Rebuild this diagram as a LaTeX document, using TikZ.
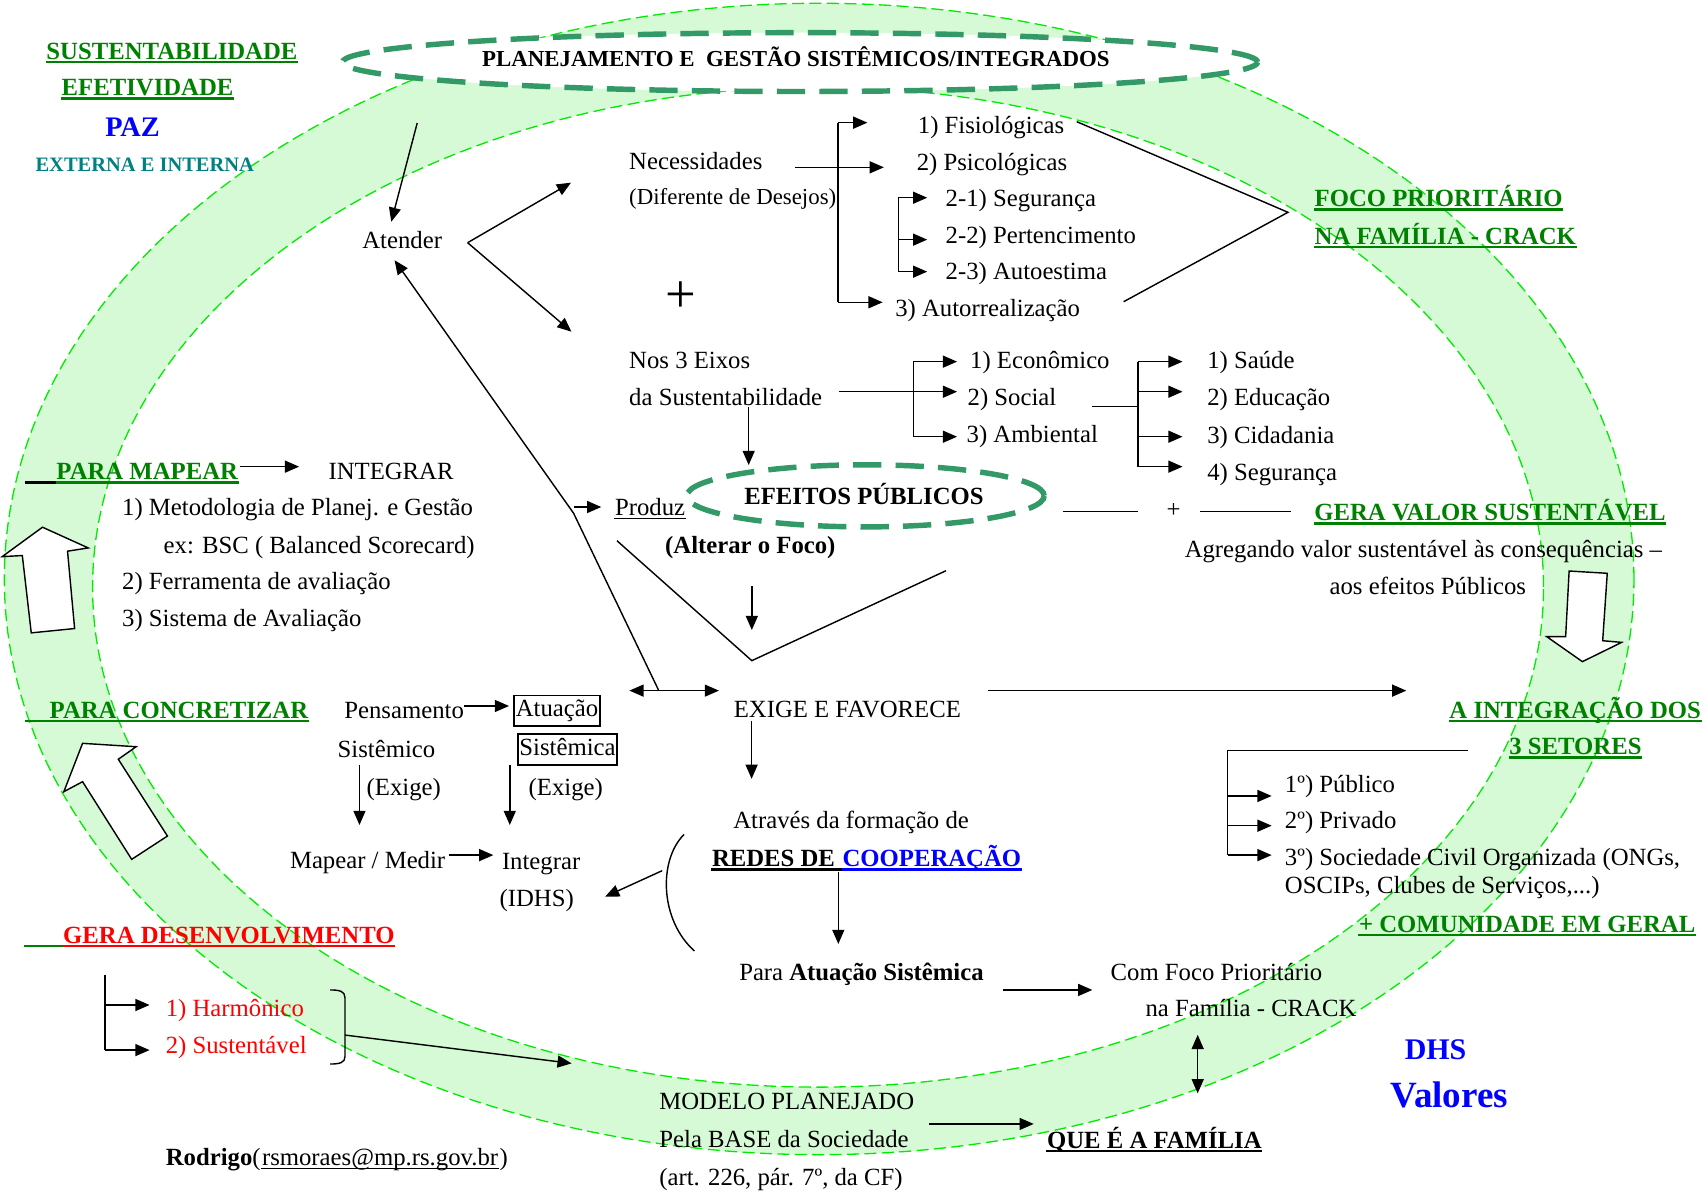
\documentclass[tikz,border=0pt]{standalone}
\usepackage{fontspec}
\setmainfont{Liberation Serif}
\usetikzlibrary{arrows.meta,positioning}
\newcommand{\ulnode}[3]{\draw[#1, line width=#2] ([yshift=-2.6pt]#3.base west) -- ([yshift=-2.6pt]#3.base east);}
\definecolor{hgreen}{RGB}{0,128,0}
\definecolor{tealc}{RGB}{0,128,128}
\definecolor{ovalc}{RGB}{51,153,102}
\definecolor{bandc}{RGB}{214,250,214}
\definecolor{bandl}{RGB}{0,235,0}
\tikzset{
	txt/.style={inner sep=0pt, anchor=base west, font=\fontsize{22.7}{27}\selectfont},
	bd/.style={txt, font=\fontsize{22.7}{27}\selectfont\bfseries},
	hd/.style={bd, text=hgreen},
	rtxt/.style={txt, text=red},
	boxed/.style={txt, draw, line width=1.5pt, inner xsep=1.5pt, inner ysep=0.5pt},
	arr/.style={-{Triangle[length=13pt,width=11pt]}},
	darr/.style={{Triangle[length=13pt,width=11pt]}-{Triangle[length=13pt,width=11pt]}},
	oval/.style={draw=ovalc, line width=5pt, dash pattern=on 26pt off 13pt},
	band/.style={draw=bandl, line width=1.2pt, dash pattern=on 11pt off 5pt},
	blk/.style={draw, fill=white, line width=1.3pt}
}
\begin{document}
\begin{tikzpicture}[x=1pt, y=-1pt, line width=1.3pt]
	\useasboundingbox (0,0) rectangle (1568,1101);
	\fill[bandc, even odd rule] (752,531.5) ellipse [x radius=748pt, y radius=528.5pt] (751,539) ellipse [x radius=666pt, y radius=459pt];
	\draw[band] (752,531.5) ellipse [x radius=748pt, y radius=528.5pt];
	\draw[band] (751,539) ellipse [x radius=666pt, y radius=459pt];
	\draw[blk] (39,484) -- (81,503) -- (62,506) -- (68.5,577) -- (28.7,581) -- (20.5,510) -- (2,511) -- cycle;
	\draw[blk] (75.8,682.4) -- (125,685.5) -- (108.6,697) -- (153.7,767.5) -- (120.9,788.9) -- (75.8,717.6) -- (58.6,726.8) -- cycle;
	\draw[blk] (1440.5,524.2) -- (1475.5,526.3) -- (1471.3,588.2) -- (1488.7,589.7) -- (1452.7,607.4) -- (1420,584.5) -- (1437.3,584.5) -- cycle;
	\draw[oval, fill=white] (734.5,57) ellipse [x radius=420pt, y radius=27pt];
	\draw[oval] (794.6,455.2) ellipse [x radius=164pt, y radius=28.5pt];

	\node[hd] (sust)at(42,54.2) {SUSTENTABILIDADE};
	\node[hd] (efet)at(56,87.8) {EFETIVIDADE};
	\node[txt, font=\fontsize{26}{30}\selectfont\bfseries, text=blue] (paz)at(96,125.5) {PAZ};
	\node[txt, font=\fontsize{18.8}{22}\selectfont\bfseries, text=tealc] (ext)at(32,157.6) {EXTERNA E INTERNA};
	\node[txt, font=\fontsize{21}{25}\selectfont\bfseries] (plan)at(442,60.6) {PLANEJAMENTO E \ GESTÃO SISTÊMICOS/INTEGRADOS};
	\node[txt] (atender)at(332,228) {Atender};
	\node[txt] (nec)at(577,156) {Necessidades};
	\node[txt, font=\fontsize{21}{25}\selectfont] (difer)at(577,188) {(Diferente de Desejos)};
	\node[txt] (fis)at(842,122.5) {1) Fisiológicas};
	\node[txt] (psi)at(841,156.5) {2) Psicológicas};
	\node[txt] (seg1)at(867.5,190) {2-1) Segurança};
	\node[txt] (pert)at(867.5,223.5) {2-2) Pertencimento};
	\node[txt] (auto)at(867.5,257) {2-3) Autoestima};
	\node[txt] (real)at(821.3,291) {3) Autorrealização};
	\node[txt, anchor=center, font=\fontsize{50}{50}\selectfont] (plus1)at(625,272.4) {+};
	\node[hd] (foco)at(1206.3,189.6) {FOCO PRIORITÁRIO};
	\node[hd] (fam)at(1206.3,224.2) {NA FAMÍLIA - CRACK};
	\node[txt] (eixos)at(577,338.5) {Nos 3 Eixos};
	\node[txt] (sustb)at(577,372.2) {da Sustentabilidade};
	\node[txt] (econ)at(890,338.5) {1) Econômico};
	\node[txt] (soc)at(887.7,372.2) {2) Social};
	\node[txt] (amb)at(886.8,405.8) {3) Ambiental};
	\node[txt] (saude)at(1107.7,338.5) {1) Saúde};
	\node[txt] (educ)at(1107.7,372.2) {2) Educação};
	\node[txt] (cid)at(1107.7,407.4) {3) Cidadania};
	\node[txt] (seg2)at(1107.7,441) {4) Segurança};
	\node[hd] (mapear)at(51.2,440.5) {PARA MAPEAR};
	\node[txt] (integrar)at(301,440) {INTEGRAR};
	\node[txt] (met)at(111.5,473.2) {1) Metodologia de Planej. e Gestão};
	\node[txt] (bsc)at(149.6,508.4) {ex: BSC ( Balanced Scorecard)};
	\node[txt] (ferr)at(111.5,541.4) {2) Ferramenta de avaliação};
	\node[txt] (sist)at(111.5,575.1) {3) Sistema de Avaliação};
	\node[txt] (produz)at(564,473.2) {Produz};
	\node[bd] (efeitos)at(682.7,463.5) {EFEITOS PÚBLICOS};
	\node[bd] (alterar)at(610,508.4) {(Alterar o Foco)};
	\node[txt, anchor=center] (plus2)at(1077.4,469) {+};
	\node[hd] (gerav)at(1206,478.2) {GERA VALOR SUSTENTÁVEL};
	\node[txt] (agreg)at(1087,511.5) {Agregando valor sustentável às consequências –};
	\node[txt] (aos)at(1220,545.5) {aos efeitos Públicos};
	\node[hd] (concret)at(45,659.3) {PARA CONCRETIZAR};
	\node[txt] (pens)at(315.5,659.8) {Pensamento};
	\node[boxed] (atua)at(471.3,658) {\strut Atuação};
	\node[txt] (sistco)at(309.4,695) {Sistêmico};
	\node[boxed] (sistca)at(474.6,693.5) {\strut Sistêmica};
	\node[txt] (exige1)at(336,730.2) {(Exige)};
	\node[txt] (exige2)at(484.7,730.2) {(Exige)};
	\node[txt] (medir)at(265.6,797.5) {Mapear / Medir};
	\node[txt] (intg)at(460.2,798.5) {Integrar};
	\node[txt] (idhs)at(458,832.1) {(IDHS)};
	\node[bd, text=red] (gerad)at(57.4,866) {GERA DESENVOLVIMENTO};
	\node[rtxt] (harm)at(151.6,933.5) {1) Harmônico};
	\node[rtxt] (sustv)at(151.6,967.5) {2) Sustentável};
	\node[txt] (rod)at(151.6,1070) {\textbf{Rodrigo}(};
	\node[txt] (mail)at(rod.base east) {rsmoraes@mp.rs.gov.br};
	\node[txt] (rpar)at(mail.base east) {)};
	\node[txt] (exige)at(673,658.5) {EXIGE E FAVORECE};
	\node[txt] (atraves)at(672.6,760.8) {Através da formação de};
	\node[bd] (redes)at(653,795.5) {REDES DE\hspace*{0.25em}};
	\node[bd, text=blue] (coop)at(redes.base east) {COOPERAÇÃO};
	\node[txt] (paraatu)at(678,900) {Para \textbf{Atuação Sistêmica}};
	\node[txt] (comfoco)at(1019,900) {Com Foco Prioritário};
	\node[txt] (nafam)at(1051,933.5) {na Família - CRACK};
	\node[txt] (modelo)at(604.7,1018.5) {MODELO PLANEJADO};
	\node[txt] (pela)at(604.7,1053) {Pela BASE da Sociedade};
	\node[txt] (art)at(604.7,1088.3) {(art. 226, pár. 7º, da CF)};
	\node[bd] (quefam)at(960.6,1054) {QUE É A FAMÍLIA};
	\node[txt, font=\fontsize{27.5}{32}\selectfont\bfseries, text=blue] (dhs)at(1289,972.5) {DHS};
	\node[txt, font=\fontsize{34}{38}\selectfont\bfseries, text=blue] (valores)at(1276,1017) {Valores};
	\node[hd] (integ3)at(1330,659.3) {A INTEGRAÇÃO DOS};
	\node[hd] (setores)at(1385,693) {3 SETORES};
	\node[txt] (pub)at(1179,727.2) {1º) Público};
	\node[txt] (priv)at(1179,760.8) {2º) Privado};
	\node[txt] (soc3)at(1179,794.5) {3º) Sociedade Civil Organizada (ONGs,};
	\node[txt] (oscip)at(1179,820.5) {OSCIPs, Clubes de Serviços,...)};
	\node[hd] (comun)at(1247,855.8) {+ COMUNIDADE EM GERAL};

	\ulnode{hgreen}{2.4pt}{sust}
	\ulnode{hgreen}{2.4pt}{efet}
	\ulnode{hgreen}{2.4pt}{foco}
	\ulnode{hgreen}{2.4pt}{fam}
	\ulnode{hgreen}{2.4pt}{mapear}
	\ulnode{hgreen}{2.4pt}{gerav}
	\ulnode{hgreen}{2.4pt}{concret}
	\ulnode{hgreen}{2.4pt}{integ3}
	\ulnode{hgreen}{2.4pt}{setores}
	\ulnode{hgreen}{2.4pt}{comun}
	\ulnode{red}{2.4pt}{gerad}
	\ulnode{black}{2.4pt}{redes}
	\ulnode{blue}{2.4pt}{coop}
	\ulnode{black}{2.4pt}{quefam}
	\ulnode{black}{1.3pt}{produz}
	\ulnode{black}{1.3pt}{mail}
	\draw[line width=2.4pt] ([xshift=-28.6pt,yshift=-2.6pt]mapear.base west) -- ([yshift=-2.6pt]mapear.base west);
	\draw[hgreen, line width=2.4pt] ([xshift=-22.4pt,yshift=-2.6pt]concret.base west) -- ([yshift=-2.6pt]concret.base west);
	\draw[hgreen, line width=2.4pt] ([xshift=-35pt,yshift=-2.6pt]gerad.base west) -- ([yshift=-2.6pt]gerad.base west);

	\coordinate (pl1)at(383,113);
	\coordinate (av)at(429.3,222.8);
	\coordinate (pz)at(526.6,471.2);
	\coordinate (ex1)at(604.5,633.4);
	\draw[arr] (pl1) -- ([xshift=-10pt,yshift=8pt]atender.north);
	\draw[arr] (av) -- ++(94.9,-55.1);
	\draw[arr] (av) -- ++(95.3,81.7);
	\draw[arr] (ex1) -- (pz) -- ([xshift=-7pt,yshift=-10pt]atender.south);
	\draw[arr, shorten >=12pt] (pz |- produz.west) -- (produz.west);

	\coordinate (nb1)at(769.3,112.6);
	\coordinate (nb2)at(769.3,277.5);
	\coordinate (nn)at(729.5,153.6);
	\draw (nb1) -- (nb2);
	\draw[arr, shorten >=45.7pt] (nb1) -- (nb1 -| fis.west);
	\draw[arr, shorten >=29.6pt] (nn) -- (nn -| psi.west);
	\draw[arr, shorten >=11pt] (nb2) -- (nb2 -| real.west);
	\coordinate (sb1)at(824.6,181.5);
	\coordinate (sb2)at(824.6,220);
	\coordinate (sb3)at(824.6,249.4);
	\draw (sb1) -- (sb3);
	\draw[arr, shorten >=16.3pt] (sb1) -- (sb1 -| seg1.west);
	\draw[arr, shorten >=16.3pt] (sb2) -- (sb2 -| pert.west);
	\draw[arr, shorten >=16.3pt] (sb3) -- (sb3 -| auto.west);
	\draw (988.5,111.7) -- (1182.4,194.9) -- (1031.5,277);

	\coordinate (es)at(770,359.6);
	\coordinate (eb1)at(838.5,332);
	\coordinate (eb2)at(838.5,400.9);
	\draw (eb1) -- (eb2);
	\draw[arr, shorten >=11.4pt] (eb1) -- (eb1 -| econ.west);
	\draw[arr, shorten >=9.1pt] (es) -- (es -| soc.west);
	\draw[arr, shorten >=8.2pt] (eb2) -- (eb2 -| amb.west);
	\coordinate (ed)at(687.3,373.3);
	\draw[arr] (ed) -- ++(0,53.6);
	\coordinate (sc)at(1002.8,373.3);
	\coordinate (hb1)at(1044.7,332);
	\coordinate (hb2)at(1044.7,359.6);
	\coordinate (hb3)at(1044.7,400.9);
	\coordinate (hb4)at(1044.7,428.4);
	\draw (sc) -- (sc -| hb1);
	\draw (hb1) -- (hb4);
	\draw[arr, shorten >=22.1pt] (hb1) -- (hb1 -| saude.west);
	\draw[arr, shorten >=22.1pt] (hb2) -- (hb2 -| educ.west);
	\draw[arr, shorten >=22.1pt] (hb3) -- (hb3 -| cid.west);
	\draw[arr, shorten >=22.1pt] (hb4) -- (hb4 -| seg2.west);

	\coordinate (lv)at(976.2,469.7);
	\draw (lv) -- ([xshift=-26pt]plus2.west |- lv);
	\draw[shorten >=21pt] ([xshift=17pt]plus2.east |- lv) -- (lv -| gerav.west);
	\draw (566.4,496.4) -- (690.2,606.5) -- (868.5,523.9);
	\coordinate (vd)at(690.2,538);
	\draw[arr] (vd) -- ++(0,40.4);

	\coordinate (ma)at(220,428.4);
	\draw[arr, shorten >=26.4pt] (ma) -- (ma -| integrar.west);
	\coordinate (pa)at(426.2,648.1);
	\draw[arr, shorten >=4pt] (pa) -- (pa -| atua.west);
	\coordinate (sd1)at(330,702.3);
	\coordinate (sd2)at(468,702.3);
	\draw[arr] (sd1) -- ++(0,55.1);
	\draw[arr] (sd2) -- ++(0,55.1);
	\coordinate (mm)at(411.8,785);
	\draw[arr, shorten >=7.3pt] (mm) -- (mm -| intg.west);

	\coordinate (exl)at(577.8,634);
	\coordinate (exr)at(660,634);
	\draw[darr] (exl) -- (exr);
	\coordinate (ea)at(907,634);
	\draw[arr] (ea) -- ++(384,0);
	\coordinate (xd)at(690,662);
	\draw[arr] (xd) -- ++(0,53);
	\draw (628,766) .. controls (604,790) and (606,845) .. (637.5,873);
	\coordinate (ar)at(607.9,799.3);
	\draw[arr] (ar) -- ++(-52.4,23.9);
	\coordinate (rd)at(769.6,800.2);
	\draw[arr] (rd) -- ++(0,66.4);
	\coordinate (pf)at(920.8,908.8);
	\draw[arr, shorten >=16.2pt] (pf) -- (pf -| comfoco.west);
	\coordinate (vv)at(1099.5,950);
	\draw[darr] (vv) -- ++(0,53.7);
	\coordinate (mq)at(852.9,1031.8);
	\draw[arr, shorten >=11.6pt] (mq) -- (mq -| quefam.west);

	\coordinate (st0)at(1347.4,689.2);
	\coordinate (st1)at(1127,689.2);
	\coordinate (st2)at(1127,730.7);
	\coordinate (st3)at(1127,758);
	\coordinate (st4)at(1127,785);
	\draw (st0) -- (st1) -- (st4);
	\draw[arr, shorten >=11.6pt] (st2) -- (st2 -| pub.west);
	\draw[arr, shorten >=11.6pt] (st3) -- (st3 -| priv.west);
	\draw[arr, shorten >=11.6pt] (st4) -- (st4 -| soc3.west);

	\coordinate (hm1)at(96.3,895);
	\coordinate (hm2)at(96.3,922.6);
	\coordinate (hm3)at(96.3,964);
	\draw (hm1) -- (hm3);
	\draw[arr, shorten >=14.3pt] (hm2) -- (hm2 -| harm.west);
	\draw[arr, shorten >=14.3pt] (hm3) -- (hm3 -| sustv.west);
	\draw (303,908.8) .. controls (312,908.8) and (316.7,910) .. (316.7,916) -- (316.7,970) .. controls (316.7,975.5) and (312,976.8) .. (303,976.8);
	\coordinate (br)at(316.7,950.2);
	\draw[arr] (br) -- ++(208.1,26);
\end{tikzpicture}
\end{document}
